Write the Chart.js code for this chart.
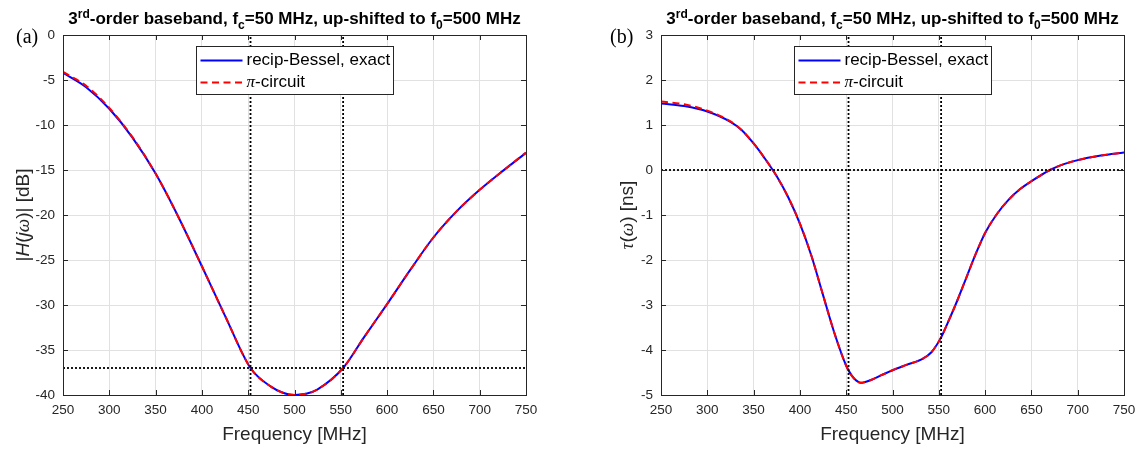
<!DOCTYPE html>
<html lang="en">
<head>
  <meta charset="UTF-8" />
  <title>3rd-order baseband, up-shifted to 500 MHz</title>
  <script src="https://cdn.jsdelivr.net/npm/chart.js"></script>
  <style>
    html, body { margin: 0; padding: 0; background: #fff; }
    body { width: 1138px; height: 449px; overflow: hidden; font-family: "Liberation Sans", Arial, sans-serif; }
    #fig { position: relative; width: 1138px; height: 449px; }
    .pane { position: absolute; top: 0; width: 569px; height: 449px; }
    .ttl { position: absolute; top: 10px; transform: translateX(-50%); white-space: nowrap;
           font-weight: bold; font-size: 17px; line-height: 17px; color: #000; }
    .ttl .sup, .ttl .sub { font-size: 12px; position: relative; }
    .ttl .sup { top: -6px; }
    .ttl .sub { top: 5px; }
    .tag { position: absolute; top: 26px; font-family: "Liberation Serif", "Times New Roman", serif;
           font-size: 20px; line-height: 20px; color: #000; }
    .ylab { position: absolute; top: 215px; transform: translate(-50%, -50%) rotate(-90deg);
            white-space: nowrap; font-size: 19px; line-height: 19px; color: #262626; }
    .gk { font-family: "Liberation Serif", "Times New Roman", serif; font-style: italic; }
  </style>
</head>
<body>
  <div id="fig">
    <div class="pane" style="left:0"><canvas id="magChart"></canvas></div>
    <div class="pane" style="left:569px"><canvas id="delayChart"></canvas></div>

    <div class="ttl" style="left:294.5px">3<span class="sup">rd</span>-order baseband, f<span class="sub">c</span>=50 MHz, up-shifted to f<span class="sub">0</span>=500 MHz</div>
    <div class="ttl" style="left:892.5px">3<span class="sup">rd</span>-order baseband, f<span class="sub">c</span>=50 MHz, up-shifted to f<span class="sub">0</span>=500 MHz</div>

    <div class="tag" style="left:16px">(a)</div>
    <div class="tag" style="left:610px">(b)</div>

    <div class="ylab" style="left:22px">|<i>H</i>(<i>j</i><span class="gk">ω</span>)| [dB]</div>
    <div class="ylab" style="left:626px"><span class="gk">τ</span>(<span class="gk">ω</span>) [ns]</div>
  </div>

  <script>
    // shared axis ticks
    const freqTicks = [250, 300, 350, 400, 450, 500, 550, 600, 650, 700, 750];
    const magTicks = [-40, -35, -30, -25, -20, -15, -10, -5, 0];
    const delayTicks = [-5, -4, -3, -2, -1, 0, 1, 2, 3];

    // (a) magnitude, dB
    const magFreq  = [250, 275, 300, 325, 350, 375, 400, 425, 452.5, 475, 487.5, 500, 512.5, 525, 552.5, 575, 600, 625, 650, 675, 700, 725, 750];
    const magExact = [-4.2, -5.8, -8.2, -11.4, -15.4, -20.3, -25.7, -31.2, -37.0, -39.1, -39.75, -40.0, -39.87, -39.37, -37.0, -33.6, -29.9, -26.1, -22.5, -19.6, -17.2, -15.1, -13.1];
    const magPi    = [-4.1, -5.65, -8.1, -11.35, -15.4, -20.3, -25.7, -31.2, -37.0, -39.1, -39.75, -40.0, -39.87, -39.37, -37.0, -33.6, -29.9, -26.1, -22.5, -19.6, -17.2, -15.1, -13.05];

    // (b) group delay, ns
    const delayFreq  = [250, 275, 300, 325, 337, 350, 362, 375, 387.5, 400, 412.5, 425, 437.5, 450, 456, 461, 465.5, 477.5, 488, 500, 515, 533, 542, 552.5, 560, 570, 580, 590, 600, 612, 625, 637.5, 650, 670, 685, 700, 725, 750];
    const delayExact = [1.48, 1.42, 1.30, 1.07, 0.89, 0.59, 0.26, -0.14, -0.61, -1.19, -1.91, -2.78, -3.64, -4.35, -4.57, -4.68, -4.73, -4.66, -4.56, -4.45, -4.33, -4.19, -4.05, -3.72, -3.38, -2.90, -2.38, -1.86, -1.40, -1.00, -0.67, -0.43, -0.25, 0.0, 0.13, 0.22, 0.32, 0.39];
    const delayPi    = [1.52, 1.46, 1.32, 1.08, 0.89, 0.59, 0.26, -0.14, -0.61, -1.19, -1.91, -2.78, -3.64, -4.35, -4.57, -4.68, -4.73, -4.66, -4.56, -4.45, -4.33, -4.19, -4.05, -3.72, -3.38, -2.90, -2.38, -1.86, -1.40, -1.00, -0.67, -0.43, -0.25, 0.0, 0.13, 0.22, 0.32, 0.39];

    // dotted guide lines
    const markerFreqs = [452.5, 552.5];
    const magMarker = -37;
    const delayMarker = 0;

    const seriesNames = ['recip-Bessel, exact', 'π-circuit'];

    const pts = (xs, ys) => xs.map((x, i) => ({ x: x, y: ys[i] }));
    const first = a => a[0];
    const last = a => a[a.length - 1];

    // box, inward ticks and the legend inside the axes (MATLAB look)
    const axesFrame = {
      id: 'axesFrame',
      afterDatasetsDraw(chart, args, opts) {
        const { ctx, chartArea: a, scales: { x, y } } = chart;
        ctx.save();
        ctx.strokeStyle = '#262626';
        ctx.lineWidth = 1;
        ctx.setLineDash([]);
        ctx.beginPath();
        opts.xTicks.forEach(v => {
          const px = Math.round(x.getPixelForValue(v)) + 0.5;
          ctx.moveTo(px, a.bottom); ctx.lineTo(px, a.bottom - 5);
          ctx.moveTo(px, a.top); ctx.lineTo(px, a.top + 5);
        });
        opts.yTicks.forEach(v => {
          const py = Math.round(y.getPixelForValue(v)) + 0.5;
          ctx.moveTo(a.left, py); ctx.lineTo(a.left + 5, py);
          ctx.moveTo(a.right, py); ctx.lineTo(a.right - 5, py);
        });
        ctx.stroke();
        ctx.strokeRect(Math.round(a.left) + 0.5, Math.round(a.top) + 0.5,
                       Math.round(a.right - a.left), Math.round(a.bottom - a.top));

        // legend
        const bx = Math.round(a.left + 133) + 0.5, by = Math.round(a.top + 11) + 0.5;
        ctx.fillStyle = '#fff';
        ctx.fillRect(bx, by, 197, 48);
        ctx.strokeStyle = '#262626';
        ctx.strokeRect(bx, by, 197, 48);
        chart.data.datasets.slice(0, 2).forEach((ds, i) => {
          const ly = by + 14 + i * 22;
          ctx.strokeStyle = ds.borderColor;
          ctx.lineWidth = 2;
          ctx.setLineDash(ds.borderDash || []);
          ctx.beginPath();
          ctx.moveTo(bx + 4, ly); ctx.lineTo(bx + 46, ly);
          ctx.stroke();
          ctx.setLineDash([]);
          ctx.fillStyle = '#000';
          ctx.textBaseline = 'middle';
          ctx.textAlign = 'left';
          let tx = bx + 50;
          let txt = ds.label;
          if (txt.startsWith('π')) {
            ctx.font = 'italic 17px "Liberation Serif", serif';
            ctx.fillText('π', tx, ly);
            tx += ctx.measureText('π').width;
            txt = txt.slice(1);
          }
          ctx.font = '17px "Liberation Sans", Arial, sans-serif';
          ctx.fillText(txt, tx, ly);
        });
        ctx.restore();
      }
    };

    function makeChart(id, freq, exact, pi, yTicks, markerY, yWidth, padRight) {
      const yMin = first(yTicks), yMax = last(yTicks);
      const xMin = first(freqTicks), xMax = last(freqTicks);
      const dotted = { borderColor: '#000', borderWidth: 1.8, borderDash: [2, 2], pointRadius: 0, order: 1 };
      const datasets = [
        { label: seriesNames[0], data: pts(freq, exact), borderColor: '#0000ff', borderWidth: 2,
          pointRadius: 0, cubicInterpolationMode: 'monotone', order: 3 },
        { label: seriesNames[1], data: pts(freq, pi), borderColor: '#ff0000', borderWidth: 2,
          borderDash: [7, 4.5], pointRadius: 0, cubicInterpolationMode: 'monotone', order: 2 }
      ];
      markerFreqs.forEach(f => {
        datasets.push(Object.assign({ label: '', data: [{ x: f, y: yMin }, { x: f, y: yMax }] }, dotted));
      });
      datasets.push(Object.assign({ label: '', data: [{ x: xMin, y: markerY }, { x: xMax, y: markerY }] }, dotted));

      const tickFont = { family: '"Liberation Sans", Arial, sans-serif', size: 13.5 };
      return new Chart(document.getElementById(id), {
        type: 'line',
        data: { datasets: datasets },
        options: {
          responsive: true,
          maintainAspectRatio: false,
          animation: false,
          layout: { padding: { left: 0, top: 35, right: padRight, bottom: 0 } },
          plugins: {
            legend: { display: false },
            tooltip: { enabled: false },
            axesFrame: { xTicks: freqTicks, yTicks: yTicks }
          },
          scales: {
            x: {
              type: 'linear', min: xMin, max: xMax,
              ticks: { stepSize: 50, color: '#262626', font: tickFont, padding: 7, maxRotation: 0, autoSkip: false },
              grid: { color: '#e1e1e1', drawTicks: false },
              border: { display: false },
              title: { display: true, text: 'Frequency [MHz]', color: '#262626',
                       font: { family: '"Liberation Sans", Arial, sans-serif', size: 19 },
                       padding: { top: 0, bottom: 3 } },
              afterFit: s => { s.height = 54; s.paddingLeft = 0; s.paddingRight = 0; }
            },
            y: {
              min: yMin, max: yMax,
              ticks: { stepSize: yTicks[1] - yTicks[0], color: '#262626', font: tickFont, padding: 8 },
              grid: { color: '#e1e1e1', drawTicks: false },
              border: { display: false },
              afterFit: s => { s.width = yWidth; s.paddingTop = 0; s.paddingBottom = 0; }
            }
          }
        },
        plugins: [axesFrame]
      });
    }

    makeChart('magChart', magFreq, magExact, magPi, magTicks, magMarker, 63, 43);
    makeChart('delayChart', delayFreq, delayExact, delayPi, delayTicks, delayMarker, 92, 14);
  </script>
</body>
</html>
